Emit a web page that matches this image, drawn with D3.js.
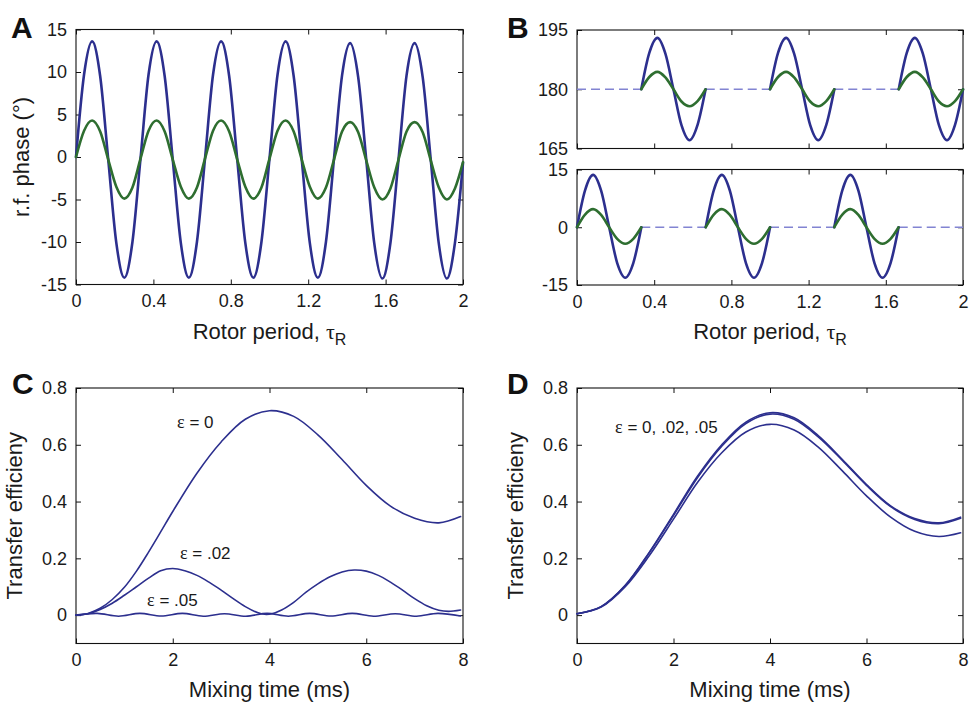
<!DOCTYPE html>
<html>
<head>
<meta charset="utf-8">
<script src="https://cdn.jsdelivr.net/npm/d3@7"></script>
<style>
  body { margin: 0; background: #fff; }
  svg { display: block; font-family: "Liberation Sans", Arial, sans-serif; }
  .tick text { font-size: 18px; fill: #1a1a1a; }
  .tick line { stroke: #111; stroke-width: 1; }
  .frame { fill: none; stroke: #111; stroke-width: 1.1; }
  .title { font-size: 22px; fill: #1a1a1a; }
  .letter { font-size: 30px; font-weight: bold; fill: #111; }
  .note { font-size: 17px; fill: #1a1a1a; }
</style>
</head>
<body>
<svg id="fig" width="971" height="702"></svg>
<script>
const blue = "#2c2f8e";
const green = "#2e6e30";
const dashBlue = "#8284d2";

// ---- panel A: r.f. phase, sampled every 1/24 rotor period ----
const phaseStep = 1 / 24;
const phaseBlue = [
  0, 9.7, 13.6, 9.5, -0.3, -10.1, -14.2, -10.0,
  -0.2, 9.7, 13.6, 9.5, -0.3, -10.1, -14.2, -10.0,
  -0.2, 9.7, 13.6, 9.5, -0.3, -10.1, -14.2, -10.0,
  -0.2, 9.7, 13.6, 9.5, -0.3, -10.1, -14.2, -10.0,
  -0.2, 9.6, 13.4, 9.4, -0.3, -10.2, -14.3, -10.1,
  -0.3, 9.6, 13.4, 9.4, -0.3, -10.2, -14.3, -10.1,
  -0.7
];
const phaseGreen = [
  0, 3.1, 4.3, 3.0, -0.3, -3.5, -4.9, -3.6,
  -0.2, 3.1, 4.3, 3.0, -0.3, -3.5, -4.9, -3.6,
  -0.2, 3.1, 4.3, 3.0, -0.3, -3.5, -4.9, -3.6,
  -0.2, 3.1, 4.3, 3.0, -0.3, -3.5, -4.9, -3.6,
  -0.3, 3.0, 4.1, 2.9, -0.4, -3.6, -5.0, -3.7,
  -0.3, 3.0, 4.1, 2.9, -0.4, -3.6, -5.0, -3.7,
  -0.6
];

// ---- panel B: pulse shapes (one rotor-third each) ----
const pulseLen = 1 / 3;
const bTopStarts = [0.333, 1.0, 1.667];
const bTopGaps = [[0, 0.333], [0.667, 1.0], [1.333, 1.667]];
const bTopBlue = [180, 189.2, 193.0, 189.0, 180, 170.9, 167.1, 171.0, 180];
const bTopGreen = [180, 183.1, 184.4, 183.0, 180, 176.9, 175.7, 177.0, 180];
const bBotStarts = [0, 0.667, 1.333];
const bBotGaps = [[0.333, 0.667], [1.0, 1.333], [1.667, 2.0]];
const bBotBlue = [0, 9.6, 13.6, 9.5, 0, -9.3, -13.1, -9.3, 0];
const bBotGreen = [0, 3.3, 4.7, 3.2, 0, -3.0, -4.3, -3.0, 0];

// ---- panel C: transfer efficiency vs mixing time ----
const cT0 = [0, 0.25, 0.5, 0.75, 1, 1.25, 1.5, 1.75, 2, 2.5, 3, 3.5, 4, 4.5, 5, 5.5, 6, 6.5, 7, 7.5, 7.95];
const cEps0 = [0, 0.006, 0.024, 0.055, 0.098, 0.155, 0.222, 0.293, 0.365, 0.50, 0.61, 0.69, 0.72, 0.70, 0.635, 0.548, 0.457, 0.384, 0.341, 0.325, 0.347];
const cT02 = [0, 0.25, 0.5, 0.75, 1, 1.25, 1.5, 1.75, 2, 2.25, 2.5, 2.75, 3, 3.25, 3.5, 3.75, 3.9, 4.05, 4.25, 4.5, 4.75, 5, 5.25, 5.5, 5.75, 6, 6.25, 6.5, 6.75, 7, 7.25, 7.5, 7.7, 7.95];
const cEps02 = [0, 0.005, 0.02, 0.042, 0.07, 0.10, 0.13, 0.156, 0.164, 0.156, 0.14, 0.116, 0.088, 0.058, 0.03, 0.009, 0.003, 0.005, 0.018, 0.045, 0.08, 0.11, 0.135, 0.152, 0.159, 0.155, 0.14, 0.116, 0.088, 0.058, 0.033, 0.017, 0.013, 0.018];
const cT05 = [0, 0.44, 0.88, 1.32, 1.76, 2.2, 2.63, 3.07, 3.51, 3.95, 4.39, 4.83, 5.27, 5.71, 6.15, 6.6, 7.04, 7.48, 7.95];
const cEps05 = [0, 0.006, -0.004, 0.006, -0.003, 0.006, -0.004, 0.005, -0.004, 0.006, -0.004, 0.006, -0.003, 0.006, -0.004, 0.005, -0.004, 0.006, -0.003];

// ---- panel D ----
const dT = [0, 0.5, 1, 1.5, 2, 2.5, 3, 3.5, 4, 4.5, 5, 5.5, 6, 6.5, 7, 7.5, 7.95];
const dEps0 = [0.005, 0.03, 0.105, 0.222, 0.355, 0.49, 0.60, 0.68, 0.713, 0.695, 0.632, 0.548, 0.46, 0.385, 0.34, 0.325, 0.345];
const dEps02 = [0.005, 0.03, 0.104, 0.22, 0.351, 0.485, 0.595, 0.675, 0.708, 0.69, 0.628, 0.545, 0.457, 0.382, 0.337, 0.322, 0.341];
const dEps05 = [0.005, 0.028, 0.10, 0.21, 0.338, 0.468, 0.572, 0.645, 0.672, 0.652, 0.592, 0.508, 0.42, 0.345, 0.295, 0.277, 0.29];

// ticks
const rotorTicks = [0, 0.4, 0.8, 1.2, 1.6, 2];
const rotorLabels = ["0", "0.4", "0.8", "1.2", "1.6", "2"];
const phaseTicks = [-15, -10, -5, 0, 5, 10, 15];
const phaseLabels = ["-15", "-10", "-5", "0", "5", "10", "15"];
const bTopTicks = [165, 180, 195];
const bBotTicks = [-15, 0, 15];
const mixTicks = [0, 2, 4, 6, 8];
const mixLabels = ["0", "2", "4", "6", "8"];
const effTicks = [0, 0.2, 0.4, 0.6, 0.8];
const effLabels = ["0", "0.2", "0.4", "0.6", "0.8"];

const svg = d3.select("#fig");

/********** generic boxed axes, MATLAB style (ticks inside, all sides) **********/
function makeAxes(box, xDom, yDom, xt, xl, yt, yl) {
  const w = box.right - box.left, h = box.bottom - box.top;
  const g = svg.append("g").attr("transform", `translate(${box.left},${box.top})`);
  const x = d3.scaleLinear().domain(xDom).range([0, w]);
  const y = d3.scaleLinear().domain(yDom).range([h, 0]);

  g.append("g").attr("transform", `translate(0,${h})`)
    .call(d3.axisBottom(x).tickValues(xt).tickFormat((d, i) => xl ? xl[i] : "")
      .tickSizeInner(-5).tickSizeOuter(0).tickPadding(10));
  g.append("g")
    .call(d3.axisTop(x).tickValues(xt).tickFormat("").tickSizeInner(-5).tickSizeOuter(0));
  g.append("g")
    .call(d3.axisLeft(y).tickValues(yt).tickFormat((d, i) => yl ? yl[i] : "")
      .tickSizeInner(-5).tickSizeOuter(0).tickPadding(9));
  g.append("g").attr("transform", `translate(${w},0)`)
    .call(d3.axisRight(y).tickValues(yt).tickFormat("").tickSizeInner(-5).tickSizeOuter(0));
  g.selectAll(".domain").remove();

  g.append("rect").attr("class", "frame").attr("width", w).attr("height", h);
  return { g, x, y, w, h };
}

function drawLine(ax, pts, color, width, curve) {
  const line = d3.line()
    .x(d => ax.x(d[0]))
    .y(d => ax.y(d[1]))
    .curve(curve || d3.curveMonotoneX);
  ax.g.append("path")
    .datum(pts)
    .attr("d", line)
    .attr("fill", "none")
    .attr("stroke", color)
    .attr("stroke-width", width)
    .attr("stroke-linejoin", "round")
    .attr("stroke-linecap", "round");
}

function xTitle(ax, dy, parts) {
  const t = ax.g.append("text").attr("class", "title")
    .attr("x", ax.w / 2).attr("y", ax.h + dy).attr("text-anchor", "middle");
  parts(t);
}

function yTitle(ax, dx, label) {
  ax.g.append("text").attr("class", "title")
    .attr("transform", `translate(${dx},${ax.h / 2}) rotate(-90)`)
    .attr("text-anchor", "middle")
    .text(label);
}

function rotorTitle(t) {
  t.append("tspan").text("Rotor period, ");
  t.append("tspan").style("font-family", "Liberation Serif, serif").text("τ");
  t.append("tspan").attr("dy", 6).style("font-size", "16px").text("R");
}

function letter(x, y, s) {
  svg.append("text").attr("class", "letter").attr("x", x).attr("y", y).text(s);
}

function note(ax, t, v, label) {
  const el = ax.g.append("text").attr("class", "note").attr("x", ax.x(t)).attr("y", ax.y(v));
  el.append("tspan").style("font-family", "Liberation Serif, serif").style("font-size", "18px").text("ε");
  el.append("tspan").text(label);
}

const smooth = d3.curveCatmullRom.alpha(0.5);

/********** panel A **********/
const axA = makeAxes({ left: 76, right: 463, top: 29.5, bottom: 284.5 },
  [0, 2], [-15, 15], rotorTicks, rotorLabels, phaseTicks, phaseLabels);
drawLine(axA, phaseBlue.map((v, i) => [i * phaseStep, v]), blue, 2.6);
drawLine(axA, phaseGreen.map((v, i) => [i * phaseStep, v]), green, 2.6);
xTitle(axA, 54.5, rotorTitle);
yTitle(axA, -47, "r.f. phase (°)");
letter(11, 38, "A");

/********** panel B **********/
function drawPulses(ax, starts, gaps, shapeBlue, shapeGreen, base) {
  gaps.forEach(gp => {
    ax.g.append("line")
      .attr("x1", ax.x(gp[0])).attr("x2", ax.x(gp[1]))
      .attr("y1", ax.y(base)).attr("y2", ax.y(base))
      .attr("stroke", dashBlue).attr("stroke-width", 1.3)
      .attr("stroke-dasharray", "9,5");
  });
  const step = pulseLen / (shapeBlue.length - 1);
  starts.forEach(s => {
    drawLine(ax, shapeBlue.map((v, i) => [s + i * step, v]), blue, 2.6);
    drawLine(ax, shapeGreen.map((v, i) => [s + i * step, v]), green, 2.6);
  });
}

const axBt = makeAxes({ left: 577, right: 963, top: 30, bottom: 148.5 },
  [0, 2], [165, 195], rotorTicks, null, bTopTicks, bTopTicks.map(String));
drawPulses(axBt, bTopStarts, bTopGaps, bTopBlue, bTopGreen, 180);

const axBb = makeAxes({ left: 577, right: 963, top: 169.5, bottom: 285 },
  [0, 2], [-15, 15], rotorTicks, rotorLabels, bBotTicks, bBotTicks.map(String));
drawPulses(axBb, bBotStarts, bBotGaps, bBotBlue, bBotGreen, 0);
xTitle(axBb, 54, rotorTitle);
letter(507, 38, "B");

/********** panel C **********/
const axC = makeAxes({ left: 76, right: 463, top: 388, bottom: 643.5 },
  [0, 8], [-0.1, 0.8], mixTicks, mixLabels, effTicks, effLabels);
drawLine(axC, cT0.map((t, i) => [t, cEps0[i]]), blue, 1.6, smooth);
drawLine(axC, cT02.map((t, i) => [t, cEps02[i]]), blue, 1.6, smooth);
drawLine(axC, cT05.map((t, i) => [t, cEps05[i]]), blue, 1.6, smooth);
note(axC, 2.09, 0.658, " = 0");
note(axC, 2.15, 0.196, " = .02");
note(axC, 1.47, 0.033, " = .05");
xTitle(axC, 53, t => t.text("Mixing time (ms)"));
yTitle(axC, -54, "Transfer efficieny");
letter(12, 394, "C");

/********** panel D **********/
const axD = makeAxes({ left: 577, right: 963, top: 388, bottom: 643.5 },
  [0, 8], [-0.1, 0.8], mixTicks, mixLabels, effTicks, effLabels);
drawLine(axD, dT.map((t, i) => [t, dEps0[i]]), blue, 1.6, smooth);
drawLine(axD, dT.map((t, i) => [t, dEps02[i]]), blue, 1.6, smooth);
drawLine(axD, dT.map((t, i) => [t, dEps05[i]]), blue, 1.6, smooth);
note(axD, 0.79, 0.642, " = 0, .02, .05");
xTitle(axD, 53, t => t.text("Mixing time (ms)"));
yTitle(axD, -54, "Transfer efficieny");
letter(507, 394, "D");
</script>
</body>
</html>
